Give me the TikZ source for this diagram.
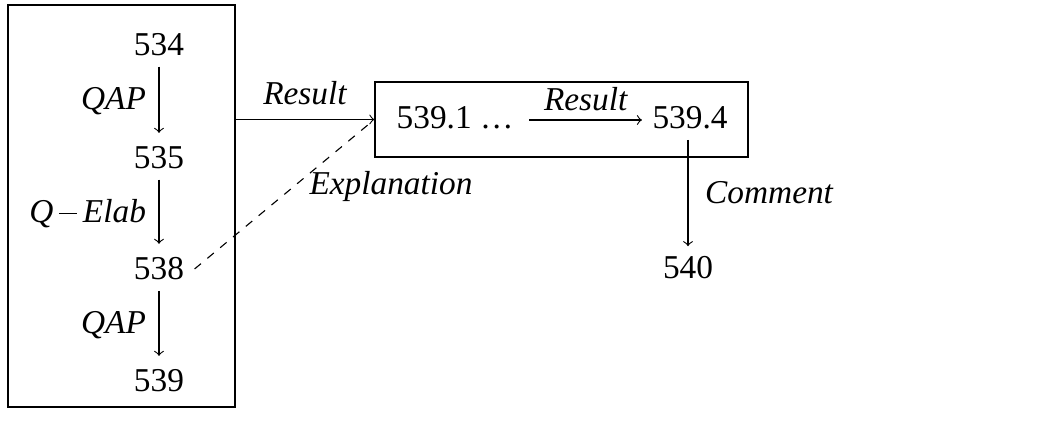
\documentclass[tikz,border=0pt]{standalone}
\usepackage{fontspec}
\setmainfont{Liberation Serif}
\newcommand{\mminus}{\kern2pt\rule[2.9pt]{6.6pt}{0.45pt}\kern2pt}
\begin{document}
\begin{tikzpicture}[x=0.36pt,y=-0.36pt,
  lbl/.style={font=\fontsize{12}{14}\selectfont\itshape, inner sep=0pt},
  num/.style={font=\fontsize{12}{14}\selectfont, inner sep=3.6pt},
  frame/.style={draw, line width=0.4pt, inner sep=0pt},
  arr/.style={->, line width=0.4pt}]
\useasboundingbox (0,0) rectangle (1050,422);
% left box
\node[frame, minimum width=81.7pt, minimum height=144.7pt] (lbox) at (121.5,206) {};
\node[num] (n534) at (159,45) {534};
\node[num] (n535) at (159,158) {535};
\node[num] (n538) at (159,269) {538};
\node[num] (n539) at (159,381) {539};
\draw[arr, shorten >=1.2pt] (n534) -- (n535) node[lbl, midway, left=4.5pt] (l1) {QAP};
\draw[arr, shorten >=1.2pt] (n535) -- (n538) node[lbl, midway, left=4.5pt] (l2) {Q\mminus Elab};
\draw[arr, shorten >=1.2pt] (n538) -- (n539) node[lbl, midway, left=4.5pt] (l3) {QAP};
% right box
\node[frame, minimum width=134.3pt, minimum height=27pt] (rbox) at (561.5,119.5) {};
\node[num] (n5391) at (455,118) {539.1 …};
\node[num] (n5394) at (690,118) {539.4};
\node[num] (n540) at (688,268) {540};
\draw[arr] ([xshift=2pt]n5391.east |- 0,120) -- (n5394.west |- 0,120) node[lbl, midway, above=3pt] (l5) {Result};
\draw[arr] (n5394.south -| 688,0) -- (n540) node[lbl, midway, right=6pt] (l6) {Comment};
% connectors between boxes
\draw[arr] (lbox.east |- rbox.west) -- (rbox.west) node[lbl, midway, above=5pt] (l4) {Result};
\draw[dashed, line width=0.4pt] (n538.east) -- (rbox.west);
\node[lbl, anchor=west] (l7) at (309,186) {Explanation};
\end{tikzpicture}
\end{document}
